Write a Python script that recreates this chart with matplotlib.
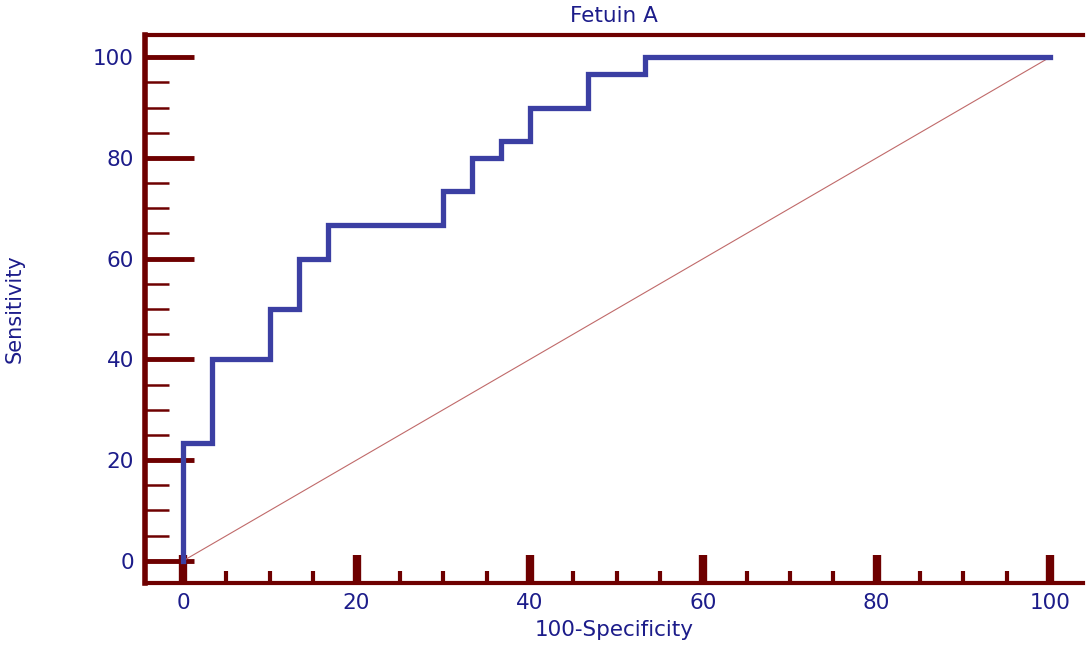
import matplotlib
matplotlib.use("Agg")
import matplotlib.pyplot as plt
from matplotlib.ticker import MultipleLocator

# ROC steps (100-Specificity, Sensitivity), 30 positives / 30 negatives
fpr = [0, 0, 3.33, 3.33, 10, 10, 13.33, 13.33, 16.67, 16.67, 30, 30, 33.33, 33.33,
       36.67, 36.67, 40, 40, 46.67, 46.67, 53.33, 53.33, 100]
tpr = [0, 23.33, 23.33, 40, 40, 50, 50, 60, 60, 66.67, 66.67, 73.33, 73.33, 80,
       80, 83.33, 83.33, 90, 90, 96.67, 96.67, 100, 100]
diag = [0, 100]

maroon = '#6e0000'
navy = '#1c1c8a'
curve_col = '#3b3fa3'

fig = plt.figure(figsize=(10.86, 6.46), dpi=100)
ax = fig.add_axes([145 / 1086, 1 - 583 / 646, (1083 - 145) / 1086, (583 - 35) / 646])

ax.plot(diag, diag, color='#c06a6a', linewidth=0.8, zorder=2)
ax.plot(fpr, tpr, color=curve_col, linewidth=3.8, solid_joinstyle='miter', zorder=3)

# axes extents
ax.set_xlim(-4.4, 103.8)
ax.set_ylim(-4.4, 104.4)

for side in ['left', 'bottom', 'top']:
    ax.spines[side].set_color(maroon)
ax.spines['left'].set_linewidth(4)
ax.spines['bottom'].set_linewidth(3)
ax.spines['top'].set_linewidth(3)
ax.spines['right'].set_visible(False)

ax.xaxis.set_minor_locator(MultipleLocator(5))
ax.yaxis.set_minor_locator(MultipleLocator(5))
ax.set_xticks([0, 20, 40, 60, 80, 100])
ax.set_yticks([0, 20, 40, 60, 80, 100])

ax.tick_params(axis='y', which='major', direction='in', length=35, width=3.5,
               color=maroon, labelcolor=navy, labelsize=15.5, pad=8)
ax.tick_params(axis='y', which='minor', direction='in', length=17, width=1.8, color=maroon)
ax.tick_params(axis='x', which='major', direction='in', length=20, width=6,
               color=maroon, labelcolor=navy, labelsize=15.5, pad=7)
ax.tick_params(axis='x', which='minor', direction='in', length=9, width=3, color=maroon)

ax.set_xlabel('100-Specificity', color=navy, fontsize=15.5, labelpad=5)
ax.set_ylabel('Sensitivity', color=navy, fontsize=15,
              family=['Liberation Sans Narrow', 'DejaVu Sans'])
ax.yaxis.set_label_coords(-0.128, 0.5)
ax.set_title('Fetuin A', color=navy, fontsize=15.5, pad=9)

fig.savefig('out.png', dpi=100)
